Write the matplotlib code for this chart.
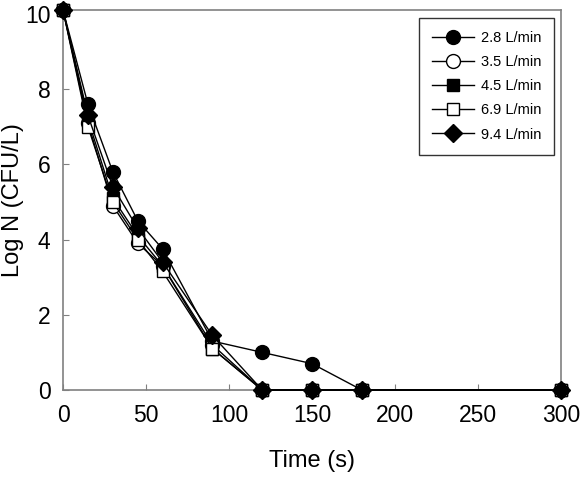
import numpy as np
import matplotlib.pyplot as plt

plt.rcParams['font.family'] = ['Liberation Sans', 'DejaVu Sans']

time = [0, 15, 30, 45, 60, 90, 120, 150, 180, 300]
flow_labels = ['2.8 L/min', '3.5 L/min', '4.5 L/min', '6.9 L/min', '9.4 L/min']
logn_28 = [10.1, 7.6, 5.8, 4.5, 3.75, 1.3, 1.0, 0.7, 0, 0]
logn_35 = [10.1, 7.1, 4.9, 3.9, 3.3, 1.2, 0, 0, 0, 0]
logn_45 = [10.1, 7.2, 5.1, 4.1, 3.3, 1.1, 0, 0, 0, 0]
logn_69 = [10.1, 7.0, 5.0, 4.0, 3.15, 1.1, 0, 0, 0, 0]
logn_94 = [10.1, 7.3, 5.4, 4.3, 3.4, 1.45, 0, 0, 0, 0]

series = [logn_28, logn_35, logn_45, logn_69, logn_94]
styles = [('o', 'black'), ('o', 'white'), ('s', 'black'), ('s', 'white'), ('D', 'black')]
sizes = [10, 10, 9, 9, 9]

fig = plt.figure(figsize=(5.81, 4.78), dpi=100)
ax = fig.add_axes([63/581, 88/478, 498/581, 380/478])

for vals, (m, fc), ms, lab in zip(series, styles, sizes, flow_labels):
    ax.plot(time, vals, color='black', lw=1, marker=m, markersize=ms,
            markerfacecolor=fc, markeredgecolor='black', markeredgewidth=1,
            label=lab, clip_on=False, zorder=3)

ax.set_xlim(0, 300)
ax.set_ylim(0, 10.1)
ax.set_xticks(np.arange(0, 301, 50))
ax.set_yticks(np.arange(0, 11, 2))
ax.tick_params(direction='in', length=4, color='#808080', labelsize=16.5)
ax.tick_params(axis='x', pad=10)
ax.tick_params(axis='y', pad=9)
for s in ax.spines.values():
    s.set_color('#808080')
    s.set_linewidth(1.2)
ax.set_xlabel('Time (s)', fontsize=17, labelpad=17)
ax.set_ylabel('Log N (CFU/L)', fontsize=17)
ax.yaxis.set_label_coords(-0.078, 0.5)

leg = ax.legend(loc='upper right', fontsize=10.5, frameon=True, fancybox=False,
                edgecolor='black', handlelength=2.9, markerscale=1.0,
                borderpad=0.9, labelspacing=0.7, handletextpad=0.45,
                borderaxespad=0, bbox_to_anchor=(0.986, 0.98))
leg.get_frame().set_linewidth(1)

fig.savefig('out.png', dpi=100)
